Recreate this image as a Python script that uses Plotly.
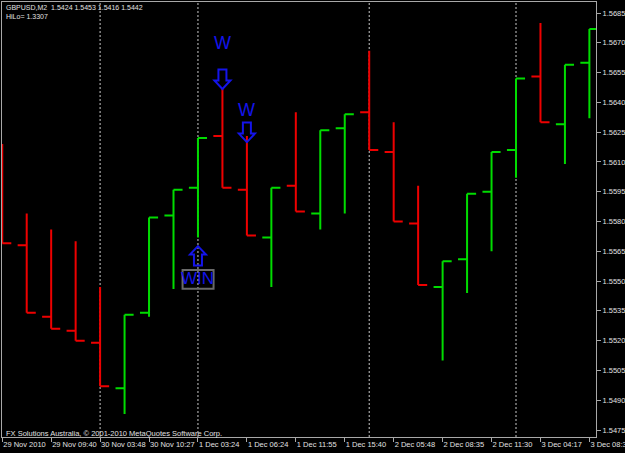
import plotly.graph_objects as go

# ---- data (range bars, GBPUSD M2) ----
bar_index = list(range(25))
opens = [1.5612, 1.5568, 1.5532, 1.5525, 1.5519, 1.5496, 1.5534, 1.5583, 1.5597, 1.5623,
         1.5596, 1.5572, 1.5598, 1.5584, 1.5627, 1.5635, 1.5615, 1.5579, 1.5547, 1.5561,
         1.5595, 1.5616, 1.5653, 1.5629, 1.5660]
highs = [1.5619, 1.5584, 1.5576, 1.5570, 1.5547, 1.5533, 1.5582, 1.5596, 1.5622, 1.5647,
         1.5623, 1.5597, 1.5635, 1.5626, 1.5634, 1.5666, 1.5630, 1.5598, 1.5560, 1.5594,
         1.5615, 1.5652, 1.5680, 1.5659, 1.5677]
lows = [1.5569, 1.5534, 1.5526, 1.5520, 1.5497, 1.5483, 1.5532, 1.5546, 1.5572, 1.5597,
        1.5573, 1.5547, 1.5585, 1.5576, 1.5584, 1.5616, 1.5580, 1.5548, 1.5510, 1.5544,
        1.5565, 1.5602, 1.5630, 1.5609, 1.5632]
closes = [1.5569, 1.5534, 1.5526, 1.5520, 1.5497, 1.5533, 1.5582, 1.5596, 1.5622, 1.5597,
          1.5573, 1.5597, 1.5585, 1.5626, 1.5634, 1.5616, 1.5580, 1.5548, 1.5560, 1.5594,
          1.5615, 1.5652, 1.5630, 1.5659, 1.5677]

time_tick_bars = [0, 2, 4, 6, 8, 10, 12, 14, 16, 18, 20, 22, 24]
time_tick_labels = ["29 Nov 2010", "29 Nov 09:40", "30 Nov 03:48", "30 Nov 10:27",
                    "1 Dec 03:24", "1 Dec 06:24", "1 Dec 11:55", "1 Dec 15:40",
                    "2 Dec 05:48", "2 Dec 08:35", "2 Dec 11:30", "3 Dec 04:17",
                    "3 Dec 08:32"]
day_separator_bars = [4, 8, 15, 21]

signal_down_bars = [9, 10]
signal_up_bars = [8]

header_text = "GBPUSD,M2  1.5424 1.5453 1.5416 1.5442"
hilo_text = "HiLo= 1.3307"
copyright_text = "FX Solutions Australia, \u00a9 2001-2010 MetaQuotes Software Corp."

# ---- style ----
GREEN = "#00dc00"
RED = "#ee0000"
BLUE = "#1414ea"
AXIS = "#a8a8a8"
TEXT = "#e0e0e0"
FONT = "Liberation Sans, Arial, sans-serif"
FS = 7.5

W, H = 625, 453
ML, MR, MT, MB = 2, 29, 2, 16
PH = H - MT - MB


def paper_y(pix):
    return 1 - (pix - MT) / PH


def nbsp(s):
    return s.replace(" ", "\u00a0")


fig = go.Figure()
fig.add_trace(go.Ohlc(
    x=bar_index, open=opens, high=highs, low=lows, close=closes,
    increasing=dict(line=dict(color=GREEN, width=2)),
    decreasing=dict(line=dict(color=RED, width=2)),
    tickwidth=0.37, hoverinfo="skip", showlegend=False,
))

shapes = []
for b in day_separator_bars:
    shapes.append(dict(type="line", xref="x", yref="paper", x0=b, x1=b, y0=0, y1=1,
                       line=dict(color="#c8c8c8", width=1, dash="2px,2px"), layer="below"))


def arrow_path(direction, offset):
    # pixel offsets (y up), tip at (0, offset)
    s = 1 if direction == "down" else -1
    pts = [(0, 0), (-8, 8.5 * s), (-4, 8.5 * s), (-4, 19.5 * s), (4, 19.5 * s), (4, 8.5 * s), (8, 8.5 * s)]
    return "M " + " L ".join(f"{x},{y + offset}" for x, y in pts) + " Z"


down_offsets = [-0.5, -6]
for b, off in zip(signal_down_bars, down_offsets):
    shapes.append(dict(type="path", xref="x", yref="y", xsizemode="pixel", ysizemode="pixel",
                       xanchor=b, yanchor=highs[b], path=arrow_path("down", off),
                       line=dict(color=BLUE, width=2), fillcolor="rgba(0,0,0,0)", layer="above"))
for b in signal_up_bars:
    shapes.append(dict(type="path", xref="x", yref="y", xsizemode="pixel", ysizemode="pixel",
                       xanchor=b, yanchor=lows[b], path=arrow_path("up", -8.7),
                       line=dict(color=BLUE, width=2), fillcolor="rgba(0,0,0,0)", layer="above"))
    shapes.append(dict(type="rect", xref="x", yref="y", xsizemode="pixel", ysizemode="pixel",
                       xanchor=b, yanchor=lows[b], x0=-15.4, x1=15.6, y0=-51.4, y1=-32.7,
                       line=dict(color="#6a6a6a", width=2), fillcolor="rgba(0,0,0,0)", layer="above"))

annotations = [
    dict(text=nbsp(header_text), xref="paper", yref="paper", x=0, y=paper_y(7.3), xshift=3,
         xanchor="left", yanchor="middle", showarrow=False, borderpad=0,
         font=dict(size=7, color=TEXT, family=FONT)),
    dict(text=nbsp(hilo_text), xref="paper", yref="paper", x=0, y=paper_y(16.2), xshift=3,
         xanchor="left", yanchor="middle", showarrow=False, borderpad=0,
         font=dict(size=7, color=TEXT, family=FONT)),
    dict(text=copyright_text, xref="paper", yref="paper", x=0, y=paper_y(433.5), xshift=2,
         xanchor="left", yanchor="middle", showarrow=False, font=dict(size=FS, color=TEXT, family=FONT)),
]
w_shifts = [45.8, 25.7]
for b, ys in zip(signal_down_bars, w_shifts):
    annotations.append(dict(text="W", xref="x", yref="y", x=b, y=highs[b], yshift=ys,
                            xanchor="center", yanchor="middle", showarrow=False,
                            font=dict(size=18, color=BLUE, family=FONT)))
for b in signal_up_bars:
    annotations.append(dict(text="WIN", xref="x", yref="y", x=b, y=lows[b], yshift=-41.5,
                            xanchor="center", yanchor="middle", showarrow=False,
                            font=dict(size=17, color=BLUE, family=FONT)))

y_top = 1.5685 + (13 - MT) / 19857
y_bot = 1.5475 - (MT + PH - 430) / 19857

fig.update_layout(
    width=W, height=H,
    margin=dict(l=ML, r=MR, t=MT, b=MB, autoexpand=False),
    paper_bgcolor="black", plot_bgcolor="black",
    shapes=shapes, annotations=annotations,
    hovermode=False,
    xaxis=dict(range=[-0.01, 24.27], tickvals=time_tick_bars, ticktext=[nbsp(t) for t in time_tick_labels],
               ticks="outside", ticklen=4, tickcolor=AXIS, tickwidth=1, tickangle=0,
               showgrid=False, zeroline=False, showline=True, linecolor=AXIS, linewidth=1,
               mirror=True, ticklabelposition="outside right", ticklabeloverflow="allow",
               automargin=False,
               tickfont=dict(size=FS, color=TEXT, family=FONT),
               rangeslider=dict(visible=False), fixedrange=True),
    yaxis=dict(range=[y_bot, y_top], side="right", tick0=1.5475, dtick=0.0015,
               tickformat=".4f", ticks="outside", ticklen=4, tickcolor=AXIS, tickwidth=1,
               showgrid=False, zeroline=False, showline=True, linecolor=AXIS, linewidth=1,
               mirror=True, automargin=False,
               tickfont=dict(size=FS, color=TEXT, family=FONT), fixedrange=True),
)

fig.write_html("out.html", config={"displayModeBar": False})
